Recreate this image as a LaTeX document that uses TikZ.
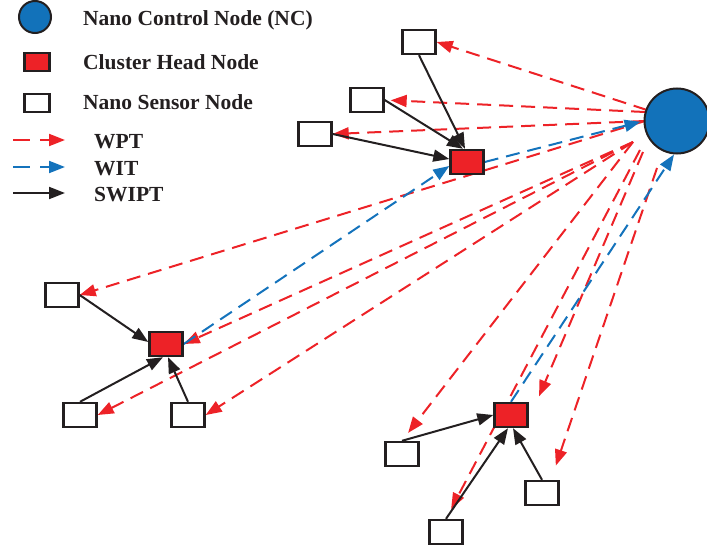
\documentclass[tikz,border=0pt]{standalone}
\usepackage{fontspec}
\setmainfont{Liberation Serif}
\usetikzlibrary{arrows.meta}
\pgfdeclarelayer{background}
\pgfsetlayers{background,main}
\definecolor{wred}{RGB}{237,34,39}
\definecolor{wblue}{RGB}{20,115,188}
\definecolor{ncblue}{RGB}{18,114,186}
\definecolor{ink}{RGB}{35,31,32}
\begin{document}
\begin{tikzpicture}[x=1pt,y=-1pt,
  sensor/.style={draw=ink, line width=2.4pt, fill=white, minimum width=33pt, minimum height=24pt, inner sep=0pt},
  head/.style={sensor, fill=wred},
  ncnode/.style={circle, draw=ink, line width=2pt, fill=ncblue, minimum size=65pt, inner sep=0pt},
  tipend/.style={-{Triangle[length=16pt,width=12pt]}},
  wpt/.style={tipend, draw=wred, line width=2pt, dash pattern=on 14pt off 8pt},
  wit/.style={tipend, draw=wblue, line width=2pt, dash pattern=on 14pt off 8pt},
  swipt/.style={tipend, draw=ink, line width=2pt},
  lab/.style={anchor=base west, inner sep=0pt, font=\fontsize{21.5pt}{24pt}\selectfont\bfseries, text=ink}
]
\path[use as bounding box] (0,0) rectangle (707,551);

% legend
\node[ncnode, minimum size=32pt] (lnc) at (35,17) {};
\node[head, minimum width=25pt, minimum height=18pt] (lch) at (37,62) {};
\node[sensor, minimum width=25pt, minimum height=18pt] (lsn) at (37,103) {};
\node[lab] (t1) at (83,26) {Nano Control Node (NC)};
\node[lab] (t2) at (83,70) {Cluster Head Node};
\node[lab] (t3) at (83,110) {Nano Sensor Node};
\node[lab] (t4) at (94,148) {WPT};
\node[lab] (t5) at (94,175) {WIT};
\node[lab] (t6) at (94,201) {SWIPT};
\coordinate (l1a) at (13,140); \coordinate (l1b) at (65,140);
\coordinate (l2a) at (13,167); \coordinate (l2b) at (65,167);
\coordinate (l3a) at (13,193); \coordinate (l3b) at (65,193);
\draw[wpt, dash pattern=on 17pt off 10pt] (l1a) -- (l1b);
\draw[wit, dash pattern=on 17pt off 10pt] (l2a) -- (l2b);
\draw[swipt] (l3a) -- (l3b);

% main nodes
\node[ncnode] (nc) at (677,121) {};
\node[sensor] (s1) at (419,42) {};
\node[sensor] (s2) at (367,100) {};
\node[sensor] (s3) at (315,134) {};
\node[head]   (ch1) at (467,162) {};
\node[sensor] (s4) at (62,295) {};
\node[head]   (ch2) at (166,344) {};
\node[sensor] (s5) at (80,415) {};
\node[sensor] (s6) at (188,415) {};
\node[head]   (ch3) at (511,415) {};
\node[sensor] (s7) at (402,454) {};
\node[sensor] (s8) at (446,532) {};
\node[sensor] (s9) at (542,493) {};

\coordinate (p1) at (647,110);
\coordinate (p2) at (645,112);
\coordinate (p3) at (645,121);
\coordinate (pb) at (633,142);
\coordinate (pf) at (640,150);
\coordinate (pg) at (643,152);
\coordinate (ph) at (657,168);

\begin{pgfonlayer}{background}
% WPT
\draw[wpt] (p1) -- (s1.east);
\draw[wpt, shorten >=6pt] (p2) -- (s2.east);
\draw[wpt] (p3) -- (s3.east);
\draw[wpt] (p3) -- (s4.east);
\draw[wpt] (pb) -- (ch2.east);
\draw[wpt] (pb) -- (s5.east);
\draw[wpt] (pb) -- (s6.east);
\draw[wpt, shorten >=10pt] (pb) -- (s7.north);
\draw[wpt, shorten >=11pt] (pf) -- (s8.north);
\draw[wpt, shorten >=6pt] (pg) -- ([xshift=8pt]ch3.north east);
\draw[wpt, shorten >=15pt] (ph) -- ([xshift=9pt]s9.north);
% WIT
\draw[wit, shorten >=3pt] (ch1.east) -- (nc.west);
\draw[wit] (ch2.east) -- ([yshift=-4pt]ch1.west);
\draw[wit] (ch3.north) -- ([xshift=-3pt]nc.south);
% SWIPT
\draw[swipt] (s1.south) -- ([xshift=-2pt]ch1.north);
\draw[swipt] (s2.east) -- ([xshift=-4pt]ch1.north);
\draw[swipt] (s3.east) -- ([yshift=3pt]ch1.west);
\draw[swipt] (s4.east) -- ([yshift=2pt]ch2.west);
\draw[swipt] (s5.north) -- ([xshift=-3pt]ch2.south);
\draw[swipt] (s6.north) -- ([xshift=2pt]ch2.south);
\draw[swipt] (s7.north) -- (ch3.west);
\draw[swipt] (s8.north) -- ([xshift=-3pt]ch3.south);
\draw[swipt] (s9.north) -- ([xshift=2pt]ch3.south);
\end{pgfonlayer}
\end{tikzpicture}
\end{document}
